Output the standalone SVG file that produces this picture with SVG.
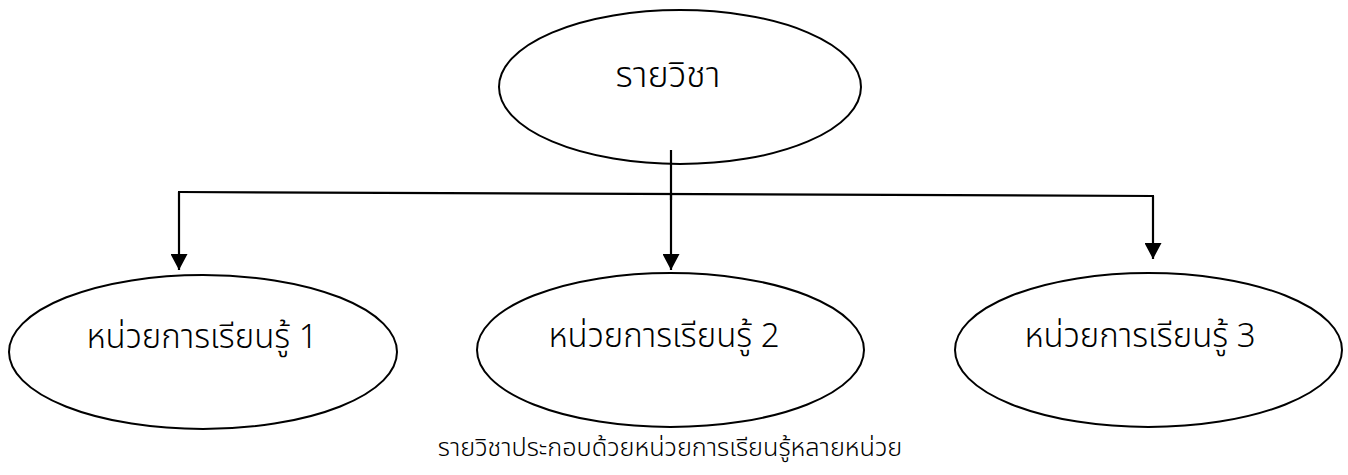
<svg xmlns="http://www.w3.org/2000/svg" width="1348" height="475" viewBox="0 0 1348 475">
<style>
.node ellipse{fill:#fff;stroke:#000;stroke-width:2}
.lbl{font-family:"Noto Sans Thai","Noto Sans","DejaVu Sans",sans-serif;font-size:33px;font-weight:300;fill:#000;text-anchor:middle}
.conn line{stroke:#000;stroke-width:2.2}
</style>
<defs>
<marker id="ah" viewBox="0 0 16 17" refX="16" refY="8.5" markerWidth="16" markerHeight="17" markerUnits="userSpaceOnUse" orient="auto">
<path d="M0 0 L16 8.5 L0 17 Z" fill="#000"/>
</marker>
</defs>
<rect width="1348" height="475" fill="#fff"/>
<g id="n-subject" class="node">
<ellipse cx="680" cy="87" rx="181" ry="77"/>
<text class="lbl" x="668" y="87" style="font-size:36px">รายวิชา</text>
</g>
<g id="n-unit1" class="node">
<ellipse cx="203" cy="352" rx="194" ry="77"/>
<text class="lbl" x="202" y="348">หน่วยการเรียนรู้ 1</text>
</g>
<g id="n-unit2" class="node">
<ellipse cx="670.5" cy="350" rx="193.5" ry="77"/>
<text class="lbl" x="664" y="347">หน่วยการเรียนรู้ 2</text>
</g>
<g id="n-unit3" class="node">
<ellipse cx="1148.5" cy="350" rx="193.5" ry="77"/>
<text class="lbl" x="1140" y="347">หน่วยการเรียนรู้ 3</text>
</g>
<g id="connectors" class="conn">
<line x1="671" y1="150" x2="671" y2="200"/>
<line x1="178" y1="192" x2="1154" y2="196"/>
<line x1="179" y1="192" x2="179" y2="270" marker-end="url(#ah)"/>
<line x1="671" y1="194" x2="671" y2="270" marker-end="url(#ah)"/>
<line x1="1153" y1="196" x2="1153" y2="259" marker-end="url(#ah)"/>
</g>
<text id="caption" class="lbl" x="670" y="456" style="font-size:25.3px">รายวิชาประกอบด้วยหน่วยการเรียนรู้หลายหน่วย</text>
</svg>
